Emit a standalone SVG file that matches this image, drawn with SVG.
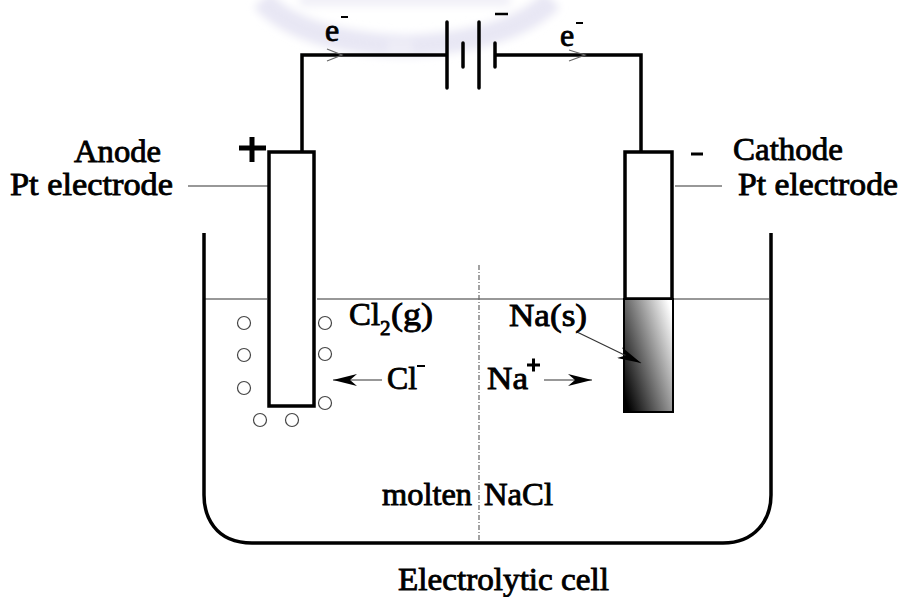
<svg xmlns="http://www.w3.org/2000/svg" width="904" height="597" viewBox="0 0 904 597">
<style>
text{font-family:"Liberation Serif","Times New Roman",serif;font-size:32px;fill:#000;stroke:#000;stroke-width:.85px}
.w{fill:none;stroke:#000;stroke-width:3.5}
.t{fill:none;stroke:#333;stroke-width:1.2}
.b{fill:#fff;stroke:#444;stroke-width:1.2}
.sub{font-size:21px}
</style>
<defs>
<linearGradient id="g" x1="0" y1="0.85" x2="1" y2="0.15"><stop offset="0" stop-color="#000"/><stop offset="1" stop-color="#fff"/></linearGradient>
<filter id="blur" x="-20%" y="-20%" width="140%" height="140%"><feGaussianBlur stdDeviation="4"/></filter>
<marker id="a" viewBox="0 0 24 12" refX="24" refY="6" markerWidth="24" markerHeight="12" markerUnits="userSpaceOnUse" orient="auto"><path d="M0 0L24 6L0 12L7 6Z" fill="#000"/></marker>
</defs>
<rect width="904" height="597" fill="#fff"/>
<g id="watermark" filter="url(#blur)" fill="none" stroke="#e8e7f4">
<path d="M262 0Q300 42 405 46Q510 42 552 0" stroke-width="22"/>
<path d="M400 40V55" stroke-width="26" stroke="#eeedf7"/>
<path d="M300 0H510" stroke-width="12" stroke="#f0eff7"/>
</g>
<g id="connectors">
<path class="t" d="M188 186H268M675 186H722"/>
<path class="t" d="M205 299H267M317 299H769"/>
<path d="M479 265V544" fill="none" stroke="#666" stroke-width="1.2" stroke-dasharray="5 2 1 2"/>
<path d="M204 233V495C204 515 214 543 252 543H723C755 543 771 520 771 495V233" fill="none" stroke="#000" stroke-width="3.5"/>
<path class="w" d="M302 152V55H447M495 55H641V152"/>
<path class="w" d="M447 22V88M479 22V88M463 43V67M495 43V67" stroke-linecap="round"/>
<path d="M327 49L342 55L327 61M569 50L585 55L569 61" fill="none" stroke="#666" stroke-width="1.2"/>
<path class="t" d="M382 380H333" marker-end="url(#a)"/>
<path class="t" d="M544 380H592" marker-end="url(#a)"/>
</g>
<g id="anode-electrode"><rect x="269" y="152" width="45" height="254" fill="#fff" stroke="#000" stroke-width="3.5"/></g>
<g id="cathode-electrode">
<rect x="625" y="152" width="47" height="147" fill="#fff" stroke="#000" stroke-width="3.5"/>
<rect x="624" y="299" width="49" height="113" fill="url(#g)" stroke="#000" stroke-width="2"/>
</g>
<path class="t" d="M577 332L641 363" marker-end="url(#a)"/>
<g id="bubbles">
<circle class="b" cx="244" cy="323" r="6.5"/><circle class="b" cx="244" cy="355" r="6.5"/><circle class="b" cx="244" cy="388" r="6.5"/>
<circle class="b" cx="325" cy="323" r="6.5"/><circle class="b" cx="325" cy="354" r="6.5"/><circle class="b" cx="325" cy="403" r="6.5"/>
<circle class="b" cx="260" cy="420" r="6.5"/><circle class="b" cx="292" cy="420" r="6.5"/>
</g>
<g id="labels">
<text x="74" y="162" textLength="87" lengthAdjust="spacingAndGlyphs">Anode</text>
<text x="10" y="195" textLength="163" lengthAdjust="spacingAndGlyphs">Pt electrode</text>
<text x="733" y="160" textLength="110" lengthAdjust="spacingAndGlyphs">Cathode</text>
<text x="738" y="195" textLength="160" lengthAdjust="spacingAndGlyphs">Pt electrode</text>
<path d="M239 148H266M252 137V162" stroke="#000" stroke-width="5" fill="none"/>
<path d="M691 154H703" stroke="#000" stroke-width="3" fill="none"/>
<text x="325" y="41">e</text><path d="M341 17H348" stroke="#000" stroke-width="2"/>
<path d="M495 14H508" stroke="#000" stroke-width="2.5"/>
<text x="560" y="46">e</text><path d="M576 23H583" stroke="#000" stroke-width="2"/>
<text x="349" y="325" textLength="31" lengthAdjust="spacingAndGlyphs">Cl</text>
<text x="380" y="335" class="sub">2</text>
<text x="391" y="325" textLength="42" lengthAdjust="spacingAndGlyphs">(g)</text>
<text x="509" y="326" textLength="78" lengthAdjust="spacingAndGlyphs">Na(s)</text>
<text x="387" y="389" textLength="30" lengthAdjust="spacingAndGlyphs">Cl</text>
<path d="M417 366H425" stroke="#000" stroke-width="2"/>
<text x="487" y="389" textLength="41" lengthAdjust="spacingAndGlyphs">Na</text>
<path d="M527 365H540M533.500 358.500V371.500" stroke="#000" stroke-width="3" fill="none"/>
<text x="382" y="505" textLength="90" lengthAdjust="spacingAndGlyphs">molten</text>
<text x="484" y="505" textLength="69" lengthAdjust="spacingAndGlyphs">NaCl</text>
<text x="398" y="590" textLength="211" lengthAdjust="spacingAndGlyphs">Electrolytic cell</text>
</g>
</svg>
